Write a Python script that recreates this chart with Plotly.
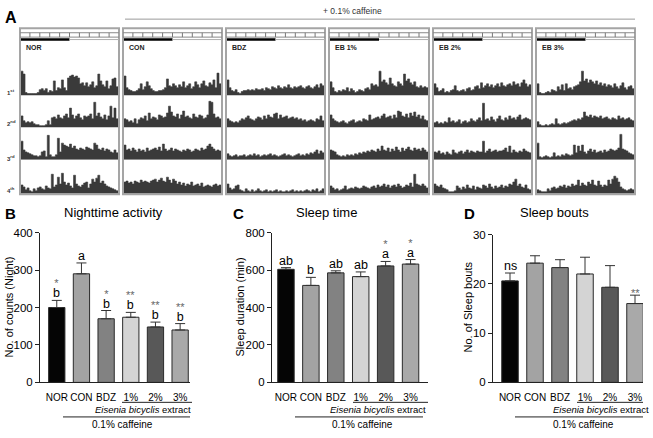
import plotly.graph_objects as go

W, H = 653, 438
def X(px): return px / W
def Y(py): return 1 - py / H

FONT = "Liberation Sans, Arial, sans-serif"

# ---------------- Panel A data (activity counts per bin, 4 days x 6 groups) ----------------
groups_A = ["NOR", "CON", "BDZ", "EB 1%", "EB 2%", "EB 3%"]
day_labels = ["1<sup>st</sup>", "2<sup>nd</sup>", "3<sup>rd</sup>", "4<sup>th</sup>"]

nor_d1 = [25,22,3,2,2,2,2,2, 3,6,7,5,7,3,5,4, 15,5,8,7,16,8,5,18, 20,21,19,20,18,12,13,10, 13,9,11,14,8,10,22,15, 11,9,15,7,10,17,18,9]
nor_d2 = [12,7,5,6,5,6,4,3, 3,2,2,2,3,7,3,10, 11,9,13,10,9,12,14,10, 20,13,9,12,14,10,8,12, 11,12,14,9,26,12,15,11, 9,13,8,12,22,10,20,9]
nor_d3 = [19,10,8,7,6,5,4,4, 3,4,8,9,3,25,5,3, 3,5,22,8,17,15,14,13, 16,12,14,11,10,12,11,10, 13,12,11,10,17,15,11,10, 12,9,11,10,8,7,10,7]
nor_d4 = [9,7,4,6,3,2,5,3, 6,7,5,4,8,6,5,20, 7,9,17,10,21,12,9,11, 8,6,19,10,8,7,9,11, 12,6,10,15,12,16,19,11, 13,10,8,7,6,5,4,3]

con_d1 = [20,8,6,5,4,4,5,7, 12,6,9,14,10,7,5,4, 4,5,5,6,8,17,10,9, 12,10,8,11,9,14,8,10, 12,7,9,14,11,8,12,15, 10,9,13,11,16,8,23,12]
con_d2 = [9,8,6,7,5,9,4,8, 10,9,12,7,15,9,11,10, 8,13,12,10,11,15,22,16, 12,11,14,9,13,17,11,12, 10,9,14,11,10,13,12,9, 10,13,27,26,14,10,11,9]
con_d3 = [15,10,11,9,12,10,8,11, 9,10,8,12,9,10,11,12, 10,13,9,16,11,9,10,12, 9,11,10,9,8,10,9,11, 10,8,9,11,10,9,12,10, 11,14,16,13,11,9,10,9]
con_d4 = [12,13,11,12,10,13,12,11, 14,12,13,12,11,13,14,15, 12,14,16,13,12,17,14,11, 15,13,10,12,9,11,8,10, 9,12,8,9,10,8,11,7, 8,9,8,7,9,10,8,9]

bdz_d1 = [16,8,5,4,6,3,2,4, 5,5,6,5,6,5,7,6, 6,7,5,8,7,6,9,8, 7,10,8,7,9,8,11,8, 7,9,8,9,10,8,7,9, 10,8,7,9,11,8,12,10]
bdz_d2 = [9,7,6,5,6,5,7,9, 8,10,12,9,8,7,9,11, 10,8,12,9,13,11,10,14, 15,9,13,10,11,12,9,10, 11,9,10,8,9,7,8,6, 7,8,7,6,9,8,12,7]
bdz_d3 = [6,4,3,4,5,3,4,4, 5,3,4,5,4,6,4,5, 3,4,5,4,5,6,4,5, 4,3,4,5,6,4,5,4, 3,4,5,6,4,5,4,6, 5,7,6,8,10,6,9,7]
bdz_d4 = [10,6,4,5,8,9,4,3, 2,5,3,2,4,2,3,5, 3,2,3,4,2,3,2,3, 4,2,3,2,2,3,2,3, 4,2,3,2,3,2,3,4, 3,2,4,3,5,2,3,5]

eb1_d1 = [14,8,4,3,5,4,6,5, 8,4,7,5,3,4,6,5, 4,7,8,6,12,10,11,9, 25,14,16,13,11,18,12,10, 9,14,12,10,22,15,17,13, 11,14,9,8,10,8,9,8]
eb1_d2 = [13,9,7,6,5,6,7,5, 4,6,7,8,5,6,7,6, 9,8,7,13,8,9,10,11, 9,12,14,10,11,12,9,13, 10,17,16,12,11,14,10,15, 12,16,11,13,9,12,8,7]
eb1_d3 = [10,9,8,5,4,3,4,3, 5,4,5,4,6,5,7,6, 8,7,9,8,10,9,8,11, 9,14,10,9,12,8,11,9, 13,10,8,12,9,11,13,10, 9,12,10,11,9,12,10,8]
eb1_d4 = [8,6,4,5,3,4,5,8, 4,5,6,5,7,6,5,6, 8,7,6,5,7,8,6,9, 7,8,10,7,9,6,8,9, 7,10,8,6,7,9,8,11, 7,20,10,9,8,10,8,6]

eb2_d1 = [12,8,4,5,7,3,4,3, 5,6,10,5,4,5,6,4, 7,8,5,6,9,10,7,13, 8,10,12,9,11,8,10,12, 9,13,10,9,11,12,10,14, 11,12,9,13,16,12,9,11]
eb2_d2 = [5,6,4,5,4,6,5,10, 6,7,5,6,8,4,6,7, 5,6,9,7,6,8,10,7, 25,8,9,7,11,8,6,9, 12,8,7,10,8,12,9,10, 8,11,13,8,9,10,9,8]
eb2_d3 = [8,7,9,6,7,5,8,6, 5,10,7,6,8,9,6,8, 10,7,9,8,7,9,8,8, 19,7,9,11,8,9,10,8, 9,9,10,12,8,14,7,10, 8,7,9,8,11,9,8,7]
eb2_d4 = [10,8,7,9,6,5,4,2, 2,2,3,8,6,4,7,5, 9,6,5,8,4,7,6,5, 9,8,6,10,7,5,8,6, 7,9,6,8,7,10,9,12, 15,8,10,7,6,9,5,4]

eb3_d1 = [12,3,2,2,3,4,3,6, 5,4,9,6,11,5,12,7, 8,6,9,10,11,14,25,15, 17,13,16,14,12,15,11,13, 10,12,9,11,10,8,12,9, 7,10,13,8,6,9,10,7]
eb3_d2 = [6,3,2,2,3,2,3,4, 3,9,4,3,4,5,4,5, 6,7,8,7,9,8,10,16, 12,11,13,10,12,11,10,12, 9,10,11,9,8,10,9,8, 12,9,10,8,9,10,8,7]
eb3_d3 = [17,3,2,3,4,3,2,3, 7,3,4,3,5,4,6,5, 4,5,15,7,14,9,15,8, 6,9,11,8,10,7,8,9, 7,10,8,9,11,10,9,10, 12,26,11,10,9,7,6,5]
eb3_d4 = [4,3,2,2,2,5,3,6, 7,5,6,8,7,9,6,8, 7,10,8,9,14,8,11,9, 8,12,10,14,9,8,13,9, 7,9,8,14,10,15,18,16, 12,7,5,4,3,4,5,4]

activity = [
    [nor_d1, nor_d2, nor_d3, nor_d4],
    [con_d1, con_d2, con_d3, con_d4],
    [bdz_d1, bdz_d2, bdz_d3, bdz_d4],
    [eb1_d1, eb1_d2, eb1_d3, eb1_d4],
    [eb2_d1, eb2_d2, eb2_d3, eb2_d4],
    [eb3_d1, eb3_d2, eb3_d3, eb3_d4],
]

# ---------------- Panels B-D data ----------------
categories = ["NOR", "CON", "BDZ", "1%", "2%", "3%"]
night_counts = [200, 290, 170, 174, 148, 140]
night_err = [19, 29, 22, 13, 13, 17]
sleep_time = [604, 518, 585, 565, 622, 632]
sleep_err = [9, 43, 11, 25, 24, 24]
sleep_bouts = [20.6, 24.2, 23.3, 22.0, 19.3, 16.0]
bouts_err = [1.6, 1.5, 1.6, 3.4, 4.4, 1.7]

letters_B = ["b", "a", "b", "b", "b", "b"]
stars_B = ["*", "", "*", "**", "**", "**"]
letters_C = ["ab", "b", "ab", "ab", "a", "a"]
stars_C = ["", "", "", "", "*", "*"]
letters_D = ["ns", "", "", "", "", ""]
stars_D = ["", "", "", "", "", "**"]

bar_colors = ["#050505", "#a3a3a3", "#828282", "#d4d4d4", "#585858", "#a9a9a9"]

fig = go.Figure()
layout = dict(
    width=W, height=H, margin=dict(l=0, r=0, t=0, b=0),
    paper_bgcolor="white", plot_bgcolor="rgba(0,0,0,0)",
    showlegend=False, barmode="overlay",
    font=dict(family=FONT, color="black"),
)
shapes = []
annotations = []

# ---------------- Panel A ----------------
cols_px = [(20, 119), (123, 222), (226, 325), (329, 429), (433, 532), (536, 635)]
row_bottoms = [92, 125, 158, 193]
row_h = 33
nbins = 48

for r, rb in enumerate(row_bottoms):
    key = "yaxis" if r == 0 else f"yaxis{r+1}"
    layout[key] = dict(domain=[Y(rb), Y(rb - row_h)], range=[0, row_h], visible=False,
                       fixedrange=True, anchor="x")
for c, (x0, x1) in enumerate(cols_px):
    key = "xaxis" if c == 0 else f"xaxis{c+1}"
    layout[key] = dict(domain=[X(x0 + 1), X(x1 - 1)], range=[0, nbins],
                       visible=False, fixedrange=True, anchor="y")

for c in range(6):
    xa = "x" if c == 0 else f"x{c+1}"
    for r in range(4):
        ya = "y" if r == 0 else f"y{r+1}"
        vals = activity[c][r]
        xs = list(range(len(vals) + 1))
        ys = list(vals) + [vals[-1]]
        fig.add_trace(go.Scatter(x=xs, y=ys, mode="lines", line=dict(shape="hv", color="#3a3a3a", width=0.6),
                                 fill="tozeroy", fillcolor="#3a3a3a",
                                 xaxis=xa, yaxis=ya, hoverinfo="skip"))

for c, (x0, x1) in enumerate(cols_px):
    w = x1 - x0
    shapes.append(dict(type="rect", xref="paper", yref="paper", x0=X(x0), x1=X(x1),
                       y0=Y(193.5), y1=Y(23), line=dict(color="#a5a5a5", width=2)))
    for yy in (27.5, 32):
        shapes.append(dict(type="line", xref="paper", yref="paper", x0=X(x0), x1=X(x1),
                           y0=Y(yy), y1=Y(yy), line=dict(color="#8a8a8a", width=1)))
    path = ""
    for k in range(1, 10):
        xx = X(x0 + k * w / 10)
        path += f"M{xx},{Y(27.5)} L{xx},{Y(32)} "
    shapes.append(dict(type="path", xref="paper", yref="paper", path=path,
                       line=dict(color="#777", width=1)))
    shapes.append(dict(type="line", xref="paper", yref="paper", x0=X(x0 + 1), x1=X(x0 + w / 2),
                       y0=Y(34.5), y1=Y(34.5), line=dict(color="black", width=2.5)))
    shapes.append(dict(type="line", xref="paper", yref="paper", x0=X(x0 + w / 2), x1=X(x1),
                       y0=Y(34.5), y1=Y(34.5), line=dict(color="#b0b0b0", width=1)))
    annotations.append(dict(xref="paper", yref="paper", x=X(x0 + 4), y=Y(43), text=f"<b>{groups_A[c]}</b>",
                            showarrow=False, xanchor="left", yanchor="middle",
                            font=dict(size=7, color="#222")))

day_label_y = [88, 120, 156, 189]
for r, yy in enumerate(day_label_y):
    annotations.append(dict(xref="paper", yref="paper", x=X(11), y=Y(yy), text=f"<b>{day_labels[r]}</b>",
                            showarrow=False, xanchor="center", yanchor="middle",
                            font=dict(size=6, color="#333")))

annotations.append(dict(xref="paper", yref="paper", x=X(3), y=Y(12), text="<b>A</b>",
                        showarrow=False, xanchor="left", yanchor="middle", font=dict(size=16)))
annotations.append(dict(xref="paper", yref="paper", x=X(321), y=Y(5), text="+ 0.1% caffeine",
                        showarrow=False, xanchor="left", yanchor="middle", font=dict(size=8.5, color="#333")))
shapes.append(dict(type="line", xref="paper", yref="paper", x0=X(125), x1=X(635), y0=Y(13.5), y1=Y(13.5),
                   line=dict(color="#999", width=1)))

# ---------------- Panels B-D ----------------
panels = [
    dict(xi=7, yi=5, vals=night_counts, errs=night_err, xpx=(40, 190), xr=[-0.68, 5.4],
         ypx=(387, 233), yr=[0, 400], tv=[0, 100, 200, 300, 400], let=letters_B, st=stars_B,
         title="Nighttime activity", tx=113, ytitle="No. of counts (Night)", ytx=9, L="B", Lx=3,
         sub1=(122, 192), ext=143, sub2=(63, 190), caf=122),
    dict(xi=8, yi=6, vals=sleep_time, errs=sleep_err, xpx=(272, 428), xr=[-0.56, 5.7],
         ypx=(387, 233), yr=[0, 800], tv=[0, 200, 400, 600, 800], let=letters_C, st=stars_C,
         title="Sleep time", tx=326, ytitle="Sleep duration (min)", ytx=240, L="C", Lx=231,
         sub1=(353, 428), ext=378, sub2=(295, 423), caf=362),
    dict(xi=9, yi=7, vals=sleep_bouts, errs=bouts_err, xpx=(493, 643), xr=[-0.68, 5.32],
         ypx=(387, 235), yr=[0, 30], tv=[0, 10, 20, 30], let=letters_D, st=stars_D,
         title="Sleep bouts", tx=554, ytitle="No. of Sleep bouts", ytx=468, L="D", Lx=462,
         sub1=(577, 643), ext=601, sub2=(515, 643), caf=583),
]

for p in panels:
    xk, yk = f"xaxis{p['xi']}", f"yaxis{p['yi']}"
    xa, ya = f"x{p['xi']}", f"y{p['yi']}"
    layout[xk] = dict(domain=[X(p["xpx"][0]), X(p["xpx"][1])], range=p["xr"], type="category",
                      categoryorder="array", categoryarray=categories, tickangle=0,
                      showline=True, linecolor="#222", linewidth=1, ticks="outside", ticklen=6,
                      tickcolor="rgba(0,0,0,0)", showgrid=False, zeroline=False,
                      tickfont=dict(size=10, family=FONT), anchor=ya, fixedrange=True)
    layout[yk] = dict(domain=[Y(p["ypx"][0]), Y(p["ypx"][1])], range=p["yr"], tickvals=p["tv"],
                      showline=True, linecolor="#222", linewidth=1, ticks="outside", ticklen=4,
                      tickcolor="#222", showgrid=False, zeroline=False,
                      tickfont=dict(size=11.5, family=FONT), anchor=xa, fixedrange=True)
    fig.add_trace(go.Bar(x=categories, y=p["vals"], width=0.66,
                         marker=dict(color=bar_colors, line=dict(color="#2a2a2a", width=1)),
                         error_y=dict(type="data", array=p["errs"], arrayminus=[0] * 6, symmetric=False,
                                      color="#333", thickness=1, width=5),
                         xaxis=xa, yaxis=ya, hoverinfo="skip"))
    for i, cat in enumerate(categories):
        top = p["vals"][i] + p["errs"][i]
        let, st = p["let"][i], p["st"][i]
        if let and st:
            txt = (f"<span style='font-size:11px;color:#666666'>{st}</span><br>"
                   f"<span style='font-size:12.5px;color:#000000'>{let}</span>")
            annotations.append(dict(xref=xa, yref=ya, x=cat, y=top, text=txt, showarrow=False,
                                    xanchor="center", yanchor="bottom", yshift=-2,
                                    font=dict(size=8, color="#000000")))
        elif let:
            annotations.append(dict(xref=xa, yref=ya, x=cat, y=top, text=let, showarrow=False,
                                    xanchor="center", yanchor="bottom", yshift=-2,
                                    font=dict(size=12.5, color="#000000")))
        elif st:
            annotations.append(dict(xref=xa, yref=ya, x=cat, y=top, text=st, showarrow=False,
                                    xanchor="center", yanchor="bottom", yshift=-6,
                                    font=dict(size=11, color="#666666")))
    annotations.append(dict(xref="paper", yref="paper", x=X(p["Lx"]), y=Y(213), text=f"<b>{p['L']}</b>",
                            showarrow=False, xanchor="left", yanchor="middle", font=dict(size=15)))
    annotations.append(dict(xref="paper", yref="paper", x=X(p["tx"]), y=Y(212), text=p["title"],
                            showarrow=False, xanchor="center", yanchor="middle", font=dict(size=13)))
    annotations.append(dict(xref="paper", yref="paper", x=X(p["ytx"]), y=Y(310), text=p["ytitle"],
                            showarrow=False, xanchor="center", yanchor="middle", textangle=-90,
                            font=dict(size=11)))
    shapes.append(dict(type="line", xref="paper", yref="paper", x0=X(p["sub1"][0]), x1=X(p["sub1"][1]),
                       y0=Y(407.5), y1=Y(407.5), line=dict(color="#222", width=1)))
    annotations.append(dict(xref="paper", yref="paper", x=X(p["ext"]), y=Y(415),
                            text="<i>Eisenia bicyclis</i> extract", showarrow=False,
                            xanchor="center", yanchor="middle", font=dict(size=9.5)))
    shapes.append(dict(type="line", xref="paper", yref="paper", x0=X(p["sub2"][0]), x1=X(p["sub2"][1]),
                       y0=Y(422.5), y1=Y(422.5), line=dict(color="#222", width=1)))
    annotations.append(dict(xref="paper", yref="paper", x=X(p["caf"]), y=Y(430.5), text="0.1% caffeine",
                            showarrow=False, xanchor="center", yanchor="middle", font=dict(size=10)))

layout["shapes"] = shapes
layout["annotations"] = annotations
fig.update_layout(**layout)
fig.write_html("out.html")
